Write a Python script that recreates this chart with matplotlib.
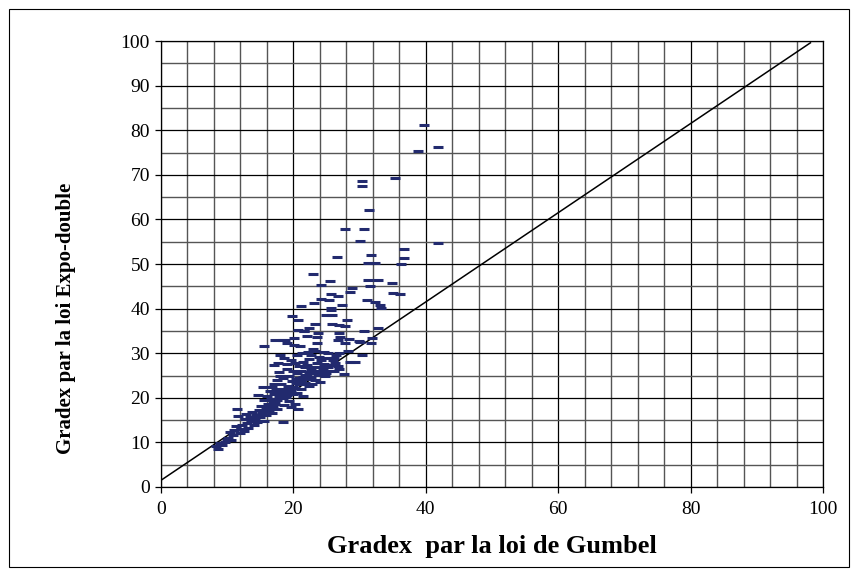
import matplotlib
matplotlib.use("Agg")
import matplotlib.pyplot as plt
from matplotlib.patches import Rectangle

# Gradex estimates: Gumbel law (x) vs double-exponential law (y)
gumbel = [
    8.3, 8.6, 8.9, 9.2, 9.6, 9.9, 10.2, 10.4, 10.6, 10.9, 11.1, 11.3, 11.5, 11.7, 11.9, 12.1, 12.3, 12.5, 12.7, 12.9,
    13.0, 13.2, 13.4, 13.6, 13.8, 14.0, 14.1, 14.3, 14.5, 14.6, 14.8, 15.0, 15.1, 15.3, 15.4, 15.5, 15.6, 15.8, 15.9, 16.0,
    16.2, 16.3, 16.4, 16.6, 16.7, 16.8, 16.9, 17.0, 17.1, 17.2, 17.3, 17.4, 17.5, 17.6, 17.7, 17.8, 17.9, 18.0, 18.0, 18.2,
    18.3, 18.4, 18.5, 18.6, 18.6, 18.7, 18.8, 18.9, 19.0, 19.1, 19.2, 19.3, 19.4, 19.5, 19.6, 19.7, 19.8, 19.8, 19.9, 20.0,
    20.1, 20.2, 20.3, 20.3, 20.4, 20.5, 20.6, 20.7, 20.7, 20.8, 20.9, 21.0, 21.1, 21.2, 21.2, 21.3, 21.4, 21.5, 21.6, 21.7,
    21.8, 22.0, 22.0, 22.1, 22.3, 22.3, 22.4, 22.5, 22.6, 22.7, 22.8, 22.9, 23.0, 23.0, 23.1, 23.2, 23.2, 23.3, 23.5, 23.6,
    23.6, 23.7, 23.8, 23.9, 24.0, 24.1, 24.1, 24.2, 24.4, 24.5, 24.6, 24.8, 24.9, 25.0, 25.1, 25.3, 25.4, 25.5, 25.6, 25.7,
    25.7, 25.7, 25.8, 25.9, 26.0, 26.2, 26.3, 26.4, 26.6, 26.7, 26.8, 26.8, 26.9, 26.9, 26.9, 26.9, 27.1, 27.3, 27.6, 27.8,
    27.8, 27.8, 28.1, 28.3, 28.4, 28.6, 28.6, 28.9, 29.3, 29.9, 30.0, 30.1, 30.3, 30.3, 30.3, 30.6, 30.7, 31.1, 31.2, 31.3,
    31.4, 31.6, 31.7, 31.8, 31.9, 32.4, 32.4, 32.8, 32.8, 33.1, 33.2, 34.9, 35.1, 35.4, 36.1, 36.3, 36.7, 36.7, 38.8, 39.8,
    41.9, 41.9, 15.6, 18.5, 20.1, 20.7, 21.6, 23.7,
    14.2, 14.7, 15.2, 15.7, 16.1, 16.5, 16.9, 17.3, 17.6, 17.9, 18.1, 18.4, 18.8, 19.1, 19.4, 19.7, 20.0, 20.4, 20.8, 21.1,
    21.4, 21.7, 22.1, 22.4, 22.7, 23.0, 23.4, 23.8, 24.2, 24.6, 25.0, 25.3, 25.8, 26.1, 17.0, 18.0, 19.0, 20.5, 21.5, 22.2,
]
expo = [
    9.3, 8.6, 9.8, 9.5, 10.2, 10.6, 11.0, 12.3, 10.5, 11.6, 12.8, 13.6, 17.5, 15.9, 12.0, 13.1, 14.0, 12.6, 15.2, 16.4,
    14.4, 13.2, 15.8, 14.9, 16.9, 13.8, 15.3, 16.2, 14.6, 20.7, 17.3, 15.6, 18.2, 16.8, 22.4, 14.9, 19.4, 17.7, 16.1, 20.3,
    18.6, 17.1, 21.5, 19.8, 16.7, 22.5, 18.0, 27.3, 20.8, 19.2, 32.9, 22.0, 17.6, 24.0, 27.9, 21.2, 25.7, 29.6, 19.9, 23.2,
    20.5, 14.6, 24.5, 29.0, 18.4, 21.9, 33.0, 20.2, 26.4, 32.3, 22.6, 19.3, 24.9, 21.4, 28.4, 17.9, 23.7, 38.3, 20.8, 26.0,
    31.9, 22.3, 27.8, 18.7, 24.2, 21.0, 25.5, 17.5, 37.4, 23.0, 27.1, 31.7, 22.0, 40.6, 25.9, 30.0, 24.6, 20.4, 34.9, 26.8,
    23.4, 27.3, 33.8, 25.0, 35.6, 22.6, 28.7, 24.3, 29.6, 26.2, 23.0, 31.0, 47.8, 25.6, 41.2, 30.6, 36.6, 24.0, 27.7, 33.7,
    32.2, 25.1, 29.2, 26.0, 23.6, 45.4, 42.2, 28.4, 25.4, 26.5, 30.3, 24.8, 27.2, 38.5, 29.0, 30.0, 42.0, 26.0, 46.1, 40.2,
    39.6, 43.3, 36.5, 38.5, 28.5, 25.9, 27.9, 29.6, 51.6, 42.9, 32.9, 27.1, 34.6, 30.0, 36.4, 26.5, 33.7, 40.9, 25.3, 36.2,
    32.3, 57.9, 37.4, 30.5, 33.2, 43.7, 28.1, 44.7, 28.1, 32.8, 55.1, 32.5, 68.6, 67.6, 29.7, 35.0, 57.9, 41.9, 46.4, 50.2,
    62.1, 45.1, 52.1, 32.3, 33.4, 50.2, 41.5, 46.4, 35.6, 40.9, 40.2, 45.7, 43.6, 69.3, 43.3, 50.0, 53.4, 51.3, 75.3, 81.1,
    76.3, 54.8, 31.6, 33.0, 33.3, 35.2, 34.9, 34.6,
    15.0, 16.0, 16.4, 17.0, 17.4, 18.2, 19.0, 18.6, 19.6, 20.5, 21.0, 20.0, 21.2, 20.7, 22.0, 21.8, 22.5, 23.3, 24.5, 24.0,
    23.0, 25.2, 24.2, 25.8, 24.7, 26.8, 25.8, 27.0, 26.0, 27.6, 25.5, 26.8, 27.4, 29.0, 23.0, 25.0, 27.5, 29.5, 28.0, 30.2,
]

# reference line drawn on the chart
line_x = [0, 98.1]
line_y = [1.5, 99.6]

x_ticks = [0, 20, 40, 60, 80, 100]
y_ticks = [0, 10, 20, 30, 40, 50, 60, 70, 80, 90, 100]

serif = ["Liberation Serif", "DejaVu Serif"]

fig = plt.figure(figsize=(8.58, 5.73), dpi=100)
ax = fig.add_axes([0.1876, 0.1501, 0.7716, 0.7783])

# frame around the whole chart
fig.patches.append(Rectangle((9 / 858, 1 - 567 / 573), 840 / 858, 558 / 573,
                             transform=fig.transFigure, fill=False,
                             edgecolor="black", lw=0.8))

ax.set_xlim(0, 100)
ax.set_ylim(0, 100)
ax.set_xticks(x_ticks)
ax.set_yticks(y_ticks)
ax.set_xticks(range(0, 101, 4), minor=True)
ax.set_yticks(range(0, 101, 5), minor=True)
ax.grid(which="minor", color="#555555", lw=1.0)
ax.grid(which="major", color="black", lw=0.9)
ax.set_axisbelow(True)
ax.tick_params(which="minor", length=0)
ax.tick_params(which="major", direction="out", length=4, width=0.9,
               labelsize=14)
ax.tick_params(axis="x", pad=6)
ax.tick_params(axis="y", pad=4)
for lab in ax.get_xticklabels() + ax.get_yticklabels():
    lab.set_family(serif)
for s in ax.spines.values():
    s.set_color("black")
    s.set_linewidth(0.9)

ax.plot(line_x, line_y, color="black", lw=1.1, zorder=3)
ax.plot(gumbel, expo, ls="none", marker="_", ms=6.5, mew=2.2,
        color="#222a6e", zorder=4)

ax.set_xlabel("Gradex  par la loi de Gumbel", family=serif, fontsize=19,
              fontweight="bold", labelpad=12)
ax.set_ylabel("Gradex par la loi Expo-double", family=serif, fontsize=15,
              fontweight="bold")
ax.yaxis.set_label_coords(-0.128, 0.379)

fig.savefig("out.png", dpi=100)
